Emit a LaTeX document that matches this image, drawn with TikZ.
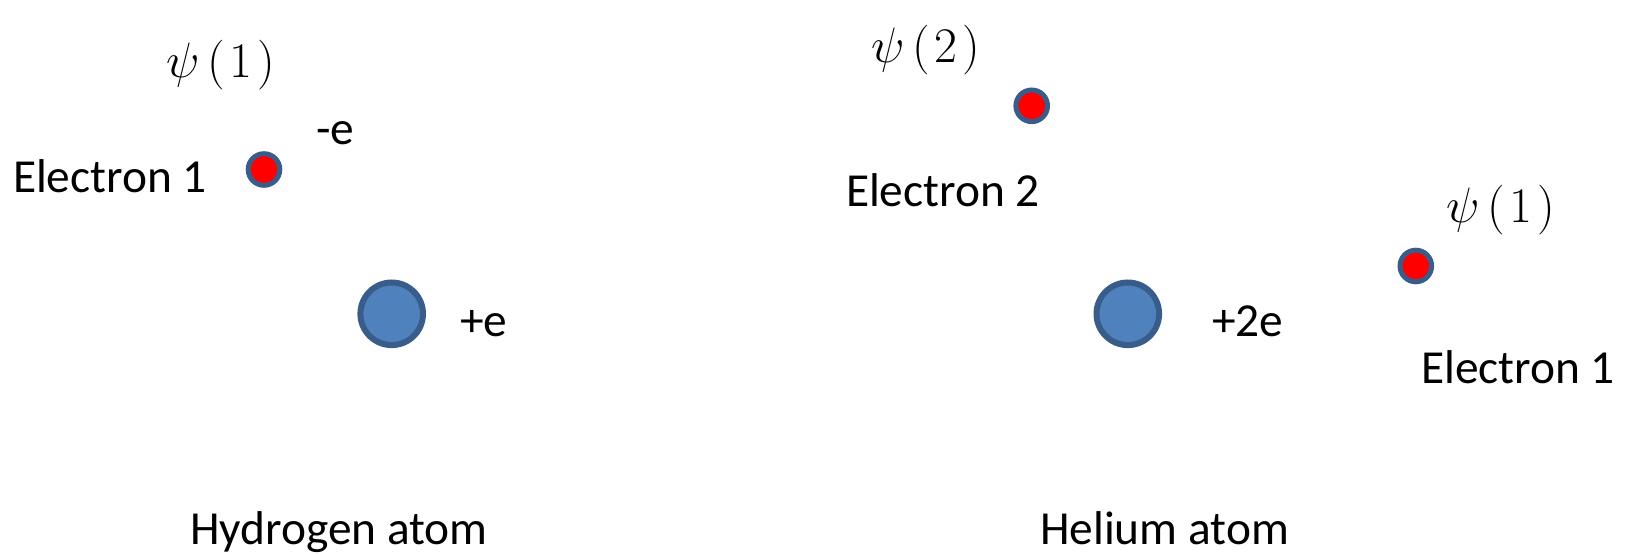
\documentclass[tikz,border=0pt]{standalone}
\usepackage{fontspec}
\setmainfont{Carlito}
\definecolor{nucfill}{HTML}{4F81BD}
\definecolor{nucline}{HTML}{385D8A}
\definecolor{elfill}{HTML}{FF0000}
\newcommand{\psiof}[1]{$\psi\mkern3mu(\mkern1.5mu #1\mkern2mu)$}
\begin{document}
\begin{tikzpicture}[x=0.5pt,y=-0.5pt,
  lbl/.style={anchor=base west,inner sep=0pt,outer sep=0pt,font=\fontsize{23.7}{28}\selectfont},
  psilbl/.style={anchor=base west,inner sep=0pt,outer sep=0pt,font=\fontsize{24}{29}\selectfont},
  electron/.style={circle,draw=nucline,fill=elfill,line width=2.5pt,minimum size=15.8pt,inner sep=0pt},
  nucleus/.style={circle,draw=nucline,fill=nucfill,line width=3pt,minimum size=31.3pt,inner sep=0pt}]
\useasboundingbox (0,0) rectangle (1628,555);
% Hydrogen atom
\node[electron] (he1) at (264,169.5) {};
\node[nucleus] (hnuc) at (391.7,313.8) {};
\node[psilbl] (hpsi) at (166,78) {\psiof{1}};
\node[lbl] (hminus) at (316,145) {-e};
\node[lbl] (hel1) at (13,193) {Electron 1};
\node[lbl] (hplus) at (460,336.5) {+e};
\node[lbl] (htitle) at (190,545) {Hydrogen atom};
% Helium atom
\node[electron] (ge2) at (1031.7,105.8) {};
\node[electron] (ge1) at (1415.8,266) {};
\node[nucleus] (gnuc) at (1127.8,313.8) {};
\node[psilbl,font=\fontsize{26}{31}\selectfont] (gpsi2) at (871,63) {\psiof{2}};
\node[psilbl] (gpsi1) at (1446,222.7) {\psiof{1}};
\node[lbl] (gel2) at (846,206.7) {Electron 2};
\node[lbl] (gplus) at (1212,336.5) {+2e};
\node[lbl] (gel1) at (1421,384) {Electron 1};
\node[lbl] (gtitle) at (1040,545) {Helium atom};
\end{tikzpicture}
\end{document}
